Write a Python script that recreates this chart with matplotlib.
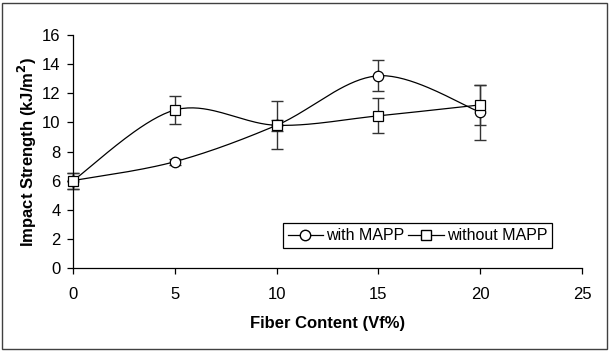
import matplotlib
matplotlib.use("Agg")
import matplotlib.pyplot as plt
import numpy as np
from matplotlib.patches import Rectangle
from matplotlib.lines import Line2D

plt.rcParams['font.family'] = ['Liberation Sans', 'DejaVu Sans']

fiber = [0, 5, 10, 15, 20]
with_mapp = [6.0, 7.3, 9.8, 13.2, 10.7]
with_mapp_err = [0.55, 0.2, 1.65, 1.05, 1.9]
without_mapp = [6.0, 10.85, 9.8, 10.45, 11.2]
without_mapp_err = [0.55, 0.95, 0.37, 1.2, 1.4]


def smooth(x, y, n=40):
    # excel style smoothed line (bezier, tension 1/6)
    x = np.asarray(x, float)
    y = np.asarray(y, float)
    px = np.concatenate([[x[0]], x, [x[-1]]])
    py = np.concatenate([[y[0]], y, [y[-1]]])
    xs, ys = [], []
    t = np.linspace(0, 1, n)
    for i in range(1, len(px) - 2):
        p0 = np.array([px[i], py[i]])
        p3 = np.array([px[i + 1], py[i + 1]])
        p1 = p0 + (np.array([px[i + 1], py[i + 1]]) - np.array([px[i - 1], py[i - 1]])) / 6
        p2 = p3 - (np.array([px[i + 2], py[i + 2]]) - np.array([px[i], py[i]])) / 6
        b = ((1 - t) ** 3)[:, None] * p0 + (3 * (1 - t) ** 2 * t)[:, None] * p1 \
            + (3 * (1 - t) * t ** 2)[:, None] * p2 + (t ** 3)[:, None] * p3
        xs.extend(b[:, 0])
        ys.extend(b[:, 1])
    return xs, ys


W, H = 610, 351
fig = plt.figure(figsize=(W / 100, H / 100), dpi=100)
fig.patches.append(Rectangle((2 / W, 2 / H), 605 / W, 346 / H, transform=fig.transFigure,
                             fill=False, edgecolor='#404040', lw=1.0))
ax = fig.add_axes([73 / W, 1 - 268 / H, (582 - 73) / W, (268 - 35) / H])

for yv, ev in [(with_mapp, with_mapp_err), (without_mapp, without_mapp_err)]:
    ax.errorbar(fiber, yv, yerr=ev, fmt='none', ecolor='#333333', elinewidth=1.0,
                capsize=4, capthick=1.0, zorder=2, clip_on=False)

sx, sy = smooth(fiber, with_mapp)
ax.plot(sx, sy, color='black', lw=0.9, zorder=3)
ax.plot(fiber, with_mapp, 'o', ms=7.5, mfc='white', mec='black', mew=0.9, zorder=4, clip_on=False)
sx, sy = smooth(fiber, without_mapp)
ax.plot(sx, sy, color='black', lw=0.9, zorder=3)
ax.plot(fiber, without_mapp, 's', ms=7.5, mfc='white', mec='black', mew=0.9, zorder=5, clip_on=False)

ax.set_xlim(0, 25)
ax.set_ylim(0, 16)
ax.set_xticks([0, 5, 10, 15, 20, 25])
ax.set_yticks(range(0, 17, 2))
ax.spines['top'].set_visible(False)
ax.spines['right'].set_visible(False)
ax.spines['left'].set_linewidth(0.9)
ax.spines['bottom'].set_linewidth(0.9)
ax.tick_params(axis='both', direction='out', length=4, width=0.9, labelsize=12)
ax.tick_params(axis='y', pad=5)
ax.tick_params(axis='x', pad=10)
ax.set_xlabel('Fiber Content (Vf%)', fontsize=12, fontweight='bold', labelpad=10)
ax.set_ylabel('Impact Strength (kJ/m$^\\mathbf{2}$)', fontsize=12, fontweight='bold', labelpad=2)

h1 = Line2D([], [], color='black', lw=0.9, marker='o', ms=7.5, mfc='white', mec='black')
h2 = Line2D([], [], color='black', lw=0.9, marker='s', ms=7.5, mfc='white', mec='black')
leg = ax.legend([h1, h2], ['with MAPP', 'without MAPP'], ncol=2, loc='lower left',
                bbox_to_anchor=(283 / W, 1 - 248 / H, (552 - 283) / W, 29 / H),
                bbox_transform=fig.transFigure, mode='expand', fancybox=False,
                edgecolor='black', framealpha=1, fontsize=11.5, handlelength=2.2,
                handletextpad=0.2, columnspacing=0.5, borderaxespad=0, borderpad=0.3)
leg.get_frame().set_linewidth(0.9)

fig.savefig('out.png', dpi=100)
